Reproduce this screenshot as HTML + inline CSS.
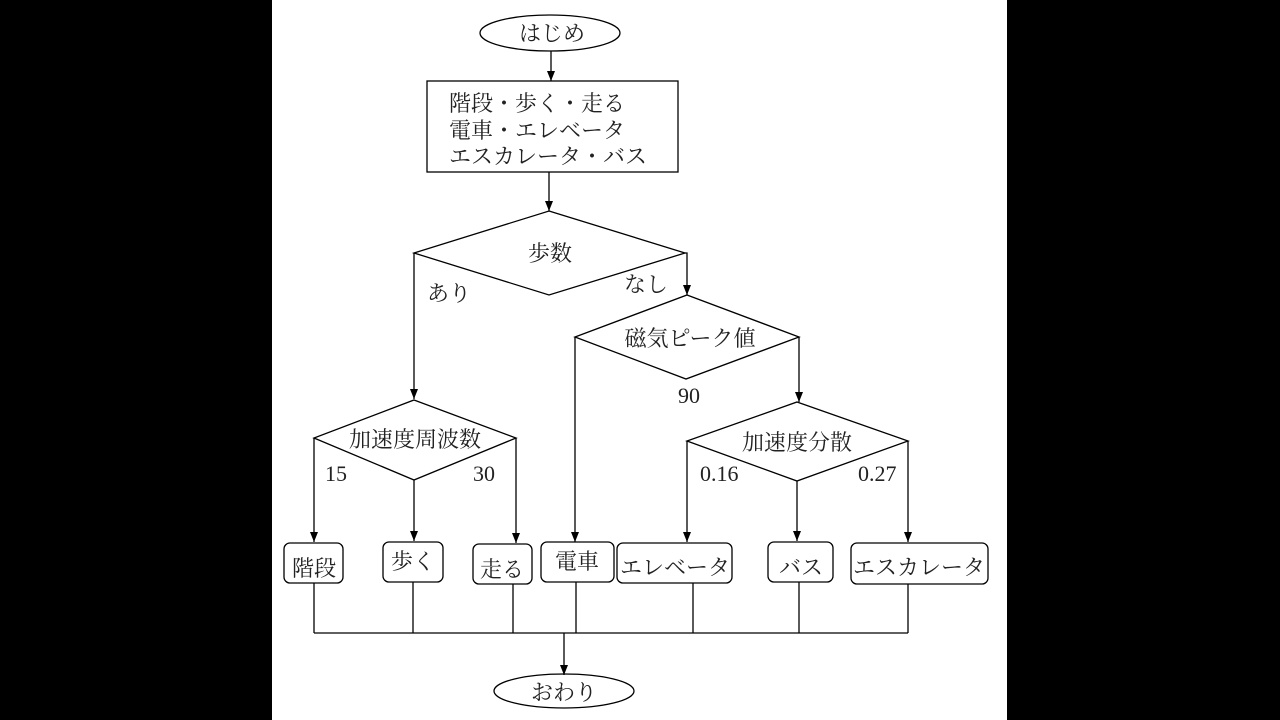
<!DOCTYPE html>
<html><head><meta charset="utf-8"><style>
html,body{margin:0;padding:0;background:#000;}
svg{display:block;}
text{font-family:"Liberation Serif","Noto Serif CJK JP","Noto Serif CJK SC",serif;font-size:22px;fill:#222;}
</style></head><body>
<svg width="1280" height="720" viewBox="0 0 1280 720" xmlns="http://www.w3.org/2000/svg">
<defs><marker id="a" markerWidth="11" markerHeight="10" refX="10" refY="5" orient="auto" markerUnits="userSpaceOnUse"><path d="M0,1 L10,5 L0,9 Z" fill="#000"/></marker></defs>
<rect x="272" y="0" width="735" height="720" fill="#fff"/>
<g stroke="#000" stroke-width="1.3" fill="none">
<ellipse cx="550" cy="33" rx="70" ry="18"/>
<line x1="551" y1="51" x2="551" y2="81" marker-end="url(#a)"/>
<rect x="427" y="81" width="251" height="91"/>
<line x1="549" y1="172" x2="549" y2="211" marker-end="url(#a)"/>
<polygon points="549,211 685,253 549,295 414,253"/>
<polyline points="414,253 414,399" marker-end="url(#a)"/>
<polyline points="685,253 687,253 687,295" marker-end="url(#a)"/>
<polygon points="687,295 799,337 686,379 575,337"/>
<polygon points="414,400 516,438 414,480 314,438"/>
<polygon points="797,402 908,441 797,481 687,441"/>
<polyline points="575,337 575,542" marker-end="url(#a)"/>
<polyline points="799,337 799,402" marker-end="url(#a)"/>
<polyline points="314,438 314,542" marker-end="url(#a)"/>
<line x1="414" y1="480" x2="414" y2="541" marker-end="url(#a)"/>
<polyline points="516,438 516,543" marker-end="url(#a)"/>
<polyline points="687,441 687,542" marker-end="url(#a)"/>
<line x1="797" y1="481" x2="797" y2="541" marker-end="url(#a)"/>
<polyline points="908,441 908,542" marker-end="url(#a)"/>
<rect x="284" y="543" width="59" height="40" rx="6"/>
<rect x="383" y="542" width="60" height="40" rx="6"/>
<rect x="473" y="544" width="59" height="40" rx="6"/>
<rect x="541" y="542" width="73" height="40" rx="6"/>
<rect x="617" y="543" width="115" height="40" rx="6"/>
<rect x="768" y="542" width="65" height="40" rx="6"/>
<rect x="851" y="543" width="137" height="41" rx="6"/>
<line x1="314" y1="583" x2="314" y2="633"/>
<line x1="413" y1="582" x2="413" y2="633"/>
<line x1="513" y1="584" x2="513" y2="633"/>
<line x1="576" y1="582" x2="576" y2="633"/>
<line x1="693" y1="583" x2="693" y2="633"/>
<line x1="799" y1="582" x2="799" y2="633"/>
<line x1="908" y1="584" x2="908" y2="633"/>
<line x1="314" y1="633" x2="908" y2="633"/>
<line x1="564" y1="633" x2="564" y2="675" marker-end="url(#a)"/>
<ellipse cx="564" cy="691" rx="70" ry="17"/>
</g>
<g text-anchor="middle">
<text x="552" y="41">はじめ</text>
<text x="550" y="261">歩数</text>
<text x="690" y="346">磁気ピーク値</text>
<text x="415" y="447">加速度周波数</text>
<text x="797" y="450">加速度分散</text>
<text x="314" y="576">階段</text>
<text x="413" y="569">歩く</text>
<text x="502" y="577">走る</text>
<text x="577" y="569">電車</text>
<text x="675" y="575">エレベータ</text>
<text x="801" y="575">バス</text>
<text x="919" y="575">エスカレータ</text>
<text x="564" y="700">おわり</text>
</g>
<text x="449" y="111">階段・歩く・走る</text>
<text x="449" y="138">電車・エレベータ</text>
<text x="449" y="164">エスカレータ・バス</text>
<text x="427" y="301">あり</text>
<text x="624" y="292">なし</text>
<text x="678" y="403">90</text>
<text x="325" y="481">15</text>
<text x="473" y="481">30</text>
<text x="700" y="481">0.16</text>
<text x="858" y="481">0.27</text>
</svg>
</body></html>
